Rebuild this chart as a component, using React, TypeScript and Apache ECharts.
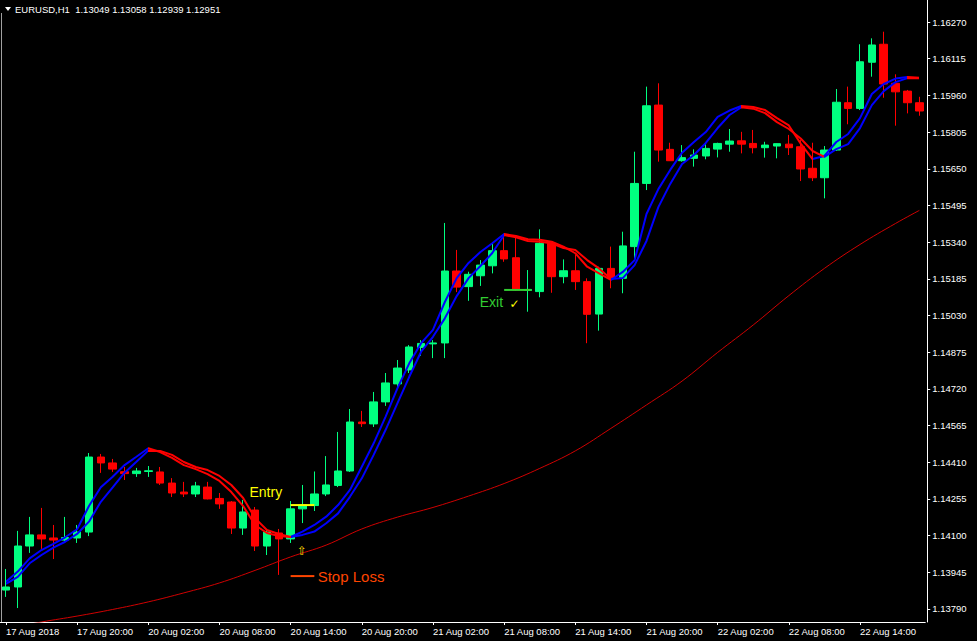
import React, { useEffect, useRef } from 'react';
import * as echarts from 'echarts';

// ---- time axis (H1 bars) ----
const sessions = [
  { day: '17 Aug', from: 14, to: 23 },
  { day: '20 Aug', from: 0, to: 23 },
  { day: '21 Aug', from: 0, to: 23 },
  { day: '22 Aug', from: 0, to: 19 },
];
const xTickLabels = [
  '17 Aug 2018', '17 Aug 20:00', '20 Aug 02:00', '20 Aug 08:00', '20 Aug 14:00',
  '20 Aug 20:00', '21 Aug 02:00', '21 Aug 08:00', '21 Aug 14:00', '21 Aug 20:00',
  '22 Aug 02:00', '22 Aug 08:00', '22 Aug 14:00',
];
const yTickLabels = [
  '1.16270', '1.16115', '1.15960', '1.15805', '1.15650', '1.15495', '1.15340', '1.15185',
  '1.15030', '1.14875', '1.14720', '1.14565', '1.14410', '1.14255', '1.14100', '1.13945', '1.13790',
];
const Y_MIN = 1.13735;
const Y_MAX = 1.16363;

// ---- candles: open, high, low, close ----
const ohlc: [number, number, number, number][] = [
  [1.13870, 1.13959, 1.13841, 1.13883],
  [1.13883, 1.14120, 1.13794, 1.14056],
  [1.14056, 1.14179, 1.14027, 1.14103],
  [1.14103, 1.14217, 1.14044, 1.14086],
  [1.14090, 1.14145, 1.14001, 1.14081],
  [1.14081, 1.14179, 1.14077, 1.14092],
  [1.14090, 1.14145, 1.14069, 1.14115],
  [1.14115, 1.14449, 1.14098, 1.14432],
  [1.14432, 1.14445, 1.14365, 1.14407],
  [1.14407, 1.14424, 1.14369, 1.14381],
  [1.14370, 1.14390, 1.14335, 1.14362],
  [1.14362, 1.14386, 1.14348, 1.14373],
  [1.14371, 1.14394, 1.14348, 1.14374],
  [1.14369, 1.14390, 1.14314, 1.14322],
  [1.14322, 1.14343, 1.14263, 1.14280],
  [1.14284, 1.14327, 1.14263, 1.14276],
  [1.14276, 1.14327, 1.14263, 1.14310],
  [1.14305, 1.14327, 1.14253, 1.14255],
  [1.14257, 1.14280, 1.14213, 1.14234],
  [1.14242, 1.14246, 1.14107, 1.14132],
  [1.14132, 1.14251, 1.14103, 1.14200],
  [1.14208, 1.14221, 1.14035, 1.14056],
  [1.14056, 1.14124, 1.14018, 1.14115],
  [1.14111, 1.14128, 1.13934, 1.14086],
  [1.14086, 1.14246, 1.14069, 1.14213],
  [1.14213, 1.14314, 1.14153, 1.14229],
  [1.14227, 1.14371, 1.14204, 1.14276],
  [1.14276, 1.14436, 1.14267, 1.14314],
  [1.14312, 1.14538, 1.14305, 1.14373],
  [1.14373, 1.14635, 1.14369, 1.14580],
  [1.14580, 1.14627, 1.14559, 1.14573],
  [1.14572, 1.14707, 1.14559, 1.14665],
  [1.14665, 1.14787, 1.14648, 1.14745],
  [1.14741, 1.14842, 1.14728, 1.14808],
  [1.14800, 1.14905, 1.14787, 1.14897],
  [1.14895, 1.14926, 1.14859, 1.14912],
  [1.14910, 1.14926, 1.14850, 1.14914],
  [1.14914, 1.15421, 1.14850, 1.15218],
  [1.15218, 1.15307, 1.15129, 1.15150],
  [1.15152, 1.15215, 1.15092, 1.15204],
  [1.15198, 1.15264, 1.15155, 1.15243],
  [1.15240, 1.15339, 1.15208, 1.15304],
  [1.15304, 1.15370, 1.15257, 1.15269],
  [1.15274, 1.15363, 1.15134, 1.15138],
  [1.15136, 1.15222, 1.15046, 1.15140],
  [1.15131, 1.15394, 1.15107, 1.15335],
  [1.15335, 1.15342, 1.15126, 1.15194],
  [1.15194, 1.15267, 1.15166, 1.15219],
  [1.15219, 1.15286, 1.15138, 1.15173],
  [1.15173, 1.15187, 1.14913, 1.15035],
  [1.15036, 1.15236, 1.14966, 1.15229],
  [1.15229, 1.15321, 1.15145, 1.15187],
  [1.15187, 1.15384, 1.15124, 1.15324],
  [1.15321, 1.15722, 1.15272, 1.15588],
  [1.15588, 1.15997, 1.15560, 1.15916],
  [1.15919, 1.16011, 1.15680, 1.15729],
  [1.15732, 1.15760, 1.15683, 1.15684],
  [1.15684, 1.15750, 1.15680, 1.15697],
  [1.15694, 1.15732, 1.15659, 1.15708],
  [1.15704, 1.15754, 1.15690, 1.15736],
  [1.15733, 1.15760, 1.15698, 1.15757],
  [1.15754, 1.15818, 1.15722, 1.15767],
  [1.15768, 1.15806, 1.15715, 1.15754],
  [1.15757, 1.15814, 1.15715, 1.15739],
  [1.15739, 1.15764, 1.15697, 1.15750],
  [1.15746, 1.15757, 1.15694, 1.15756],
  [1.15754, 1.15793, 1.15708, 1.15739],
  [1.15743, 1.15771, 1.15598, 1.15649],
  [1.15652, 1.15760, 1.15598, 1.15612],
  [1.15612, 1.15746, 1.15525, 1.15729],
  [1.15729, 1.15987, 1.15725, 1.15931],
  [1.15929, 1.15997, 1.15838, 1.15905],
  [1.15905, 1.16176, 1.15898, 1.16102],
  [1.16100, 1.16201, 1.16039, 1.16173],
  [1.16176, 1.16229, 1.15950, 1.16008],
  [1.16011, 1.16049, 1.15832, 1.15975],
  [1.15978, 1.15983, 1.15884, 1.15929],
  [1.15929, 1.15954, 1.15874, 1.15894],
];

// ---- moving averages ----
const fastMa = [
  1.13905, 1.13948, 1.14004, 1.14039, 1.14065, 1.14093, 1.14127, 1.14225, 1.14304, 1.14349,
  1.14398, 1.14433, 1.14469, 1.14453, 1.14428, 1.14398, 1.14381, 1.14360, 1.14331, 1.14284,
  1.14225, 1.14145, 1.14111, 1.14098, 1.14094, 1.14117, 1.14145, 1.14180, 1.14229, 1.14293,
  1.14391, 1.14490, 1.14602, 1.14722, 1.14828, 1.14913, 1.14969, 1.15087, 1.15188, 1.15252,
  1.15298, 1.15335, 1.15374, 1.15366, 1.15352, 1.15350, 1.15342, 1.15321, 1.15293, 1.15236,
  1.15208, 1.15180, 1.15214, 1.15264, 1.15459, 1.15564, 1.15645, 1.15718, 1.15763, 1.15805,
  1.15869, 1.15896, 1.15915, 1.15911, 1.15898, 1.15864, 1.15833, 1.15756, 1.15691, 1.15704,
  1.15763, 1.15797, 1.15864, 1.15966, 1.16008, 1.16031, 1.16038, 1.16035,
];
const slowMa = [
  1.13896, 1.13926, 1.13983, 1.14018, 1.14049, 1.14074, 1.14107, 1.14159, 1.14243, 1.14304,
  1.14366, 1.14412, 1.14459, 1.14458, 1.14441, 1.14411, 1.14390, 1.14377, 1.14352, 1.14314,
  1.14259, 1.14174, 1.14124, 1.14107, 1.14094, 1.14103, 1.14117, 1.14152, 1.14194, 1.14264,
  1.14342, 1.14441, 1.14546, 1.14659, 1.14771, 1.14877, 1.14940, 1.15018, 1.15112, 1.15188,
  1.15239, 1.15294, 1.15370, 1.15360, 1.15345, 1.15342, 1.15335, 1.15315, 1.15307, 1.15264,
  1.15229, 1.15184, 1.15188, 1.15243, 1.15345, 1.15488, 1.15586, 1.15670, 1.15708, 1.15759,
  1.15822, 1.15877, 1.15910, 1.15904, 1.15885, 1.15847, 1.15818, 1.15778, 1.15725, 1.15700,
  1.15733, 1.15754, 1.15822, 1.15919, 1.15978, 1.16016, 1.16033, 1.16032,
];
const longMaIdx = [0, 3, 6, 9, 12, 15, 18, 21, 24, 27, 30, 33, 36, 39, 42, 45, 48, 51, 54, 57, 60, 63, 66, 69, 72, 75, 77];
const longMaVals = [
  1.13706, 1.13735, 1.13760, 1.13788, 1.13820, 1.13858, 1.13900, 1.13953, 1.14010, 1.14060,
  1.14128, 1.14178, 1.14219, 1.14267, 1.14320, 1.14384, 1.14458, 1.14553, 1.14652, 1.14753,
  1.14874, 1.14990, 1.15114, 1.15229, 1.15330, 1.15419, 1.15474,
];

// ---- trade annotations ----
const tradeLines = [
  { from: 24, to: 26, price: 1.14229, color: '#FFFF00' },
  { from: 24, to: 26, price: 1.13929, color: '#FF4500' },
  { from: 42, to: 44.3, price: 1.15138, color: '#32CD32' },
];
const tradeTexts = [
  { text: 'Entry', idx: 20.53, price: 1.14284, color: '#FFFF00', size: 14, align: 'left' },
  { text: 'Stop Loss', idx: 26.28, price: 1.13929, color: '#FF4500', size: 15, align: 'left' },
  { text: 'Exit', idx: 39.94, price: 1.15089, color: '#32CD32', size: 14, align: 'left' },
  { text: '\u2713', idx: 42.88, price: 1.15079, color: '#FFFF00', size: 12, align: 'center' },
  { text: '\u21E7', idx: 24.96, price: 1.14037, color: '#FFD700', size: 12, align: 'center' },
];
const titleText = 'EURUSD,H1\u00A0 1.13049 1.13058 1.12939 1.12951';

const BLUE = '#0000FF';
const RED = '#FF0000';
const FONT = '"Liberation Sans", Arial, sans-serif';

function buildCategories(): string[] {
  const out: string[] = [];
  sessions.forEach((s) => {
    for (let h = s.from; h <= s.to; h++) out.push(`${s.day} ${String(h).padStart(2, '0')}:00`);
  });
  return out;
}

function slopePieces(vals: number[]) {
  const pieces: any[] = [];
  let start = 0;
  let cur = vals[1] > vals[0] ? BLUE : RED;
  for (let i = 1; i < vals.length - 1; i++) {
    const c = vals[i + 1] > vals[i] ? BLUE : RED;
    if (c !== cur) {
      pieces.push({ gte: start, lt: i, color: cur });
      start = i;
      cur = c;
    }
  }
  pieces.push({ gte: start, lte: vals.length - 1, color: cur });
  return pieces;
}

export default function App() {
  const ref = useRef<HTMLDivElement>(null);
  useEffect(() => {
    document.body.style.margin = '0';
    document.body.style.background = '#000';
    const chart = echarts.init(ref.current!, null, { renderer: 'svg' });
    const categories = buildCategories();
    const longMa: (number | null)[] = categories.map(() => null);
    longMaIdx.forEach((i, k) => { longMa[i] = longMaVals[k]; });
    const showTick = (i: number) => i % 6 === 0;

    chart.setOption({
      animation: false,
      backgroundColor: '#000000',
      grid: { left: -2.95, top: 0, width: 928.2, height: 622 },
      xAxis: {
        type: 'category',
        data: categories,
        boundaryGap: true,
        axisLine: { show: true, lineStyle: { color: '#FFFFFF', width: 1 } },
        axisTick: { show: true, alignWithLabel: true, interval: showTick, length: 3, lineStyle: { color: '#FFFFFF' } },
        axisLabel: {
          interval: showTick,
          formatter: (_v: string, i: number) => xTickLabels[Math.round(i / 6)] ?? '',
          align: 'left',
          color: '#FFFFFF',
          fontFamily: FONT,
          fontSize: 9.5,
          margin: 4,
        },
        splitLine: { show: false },
      },
      yAxis: {
        type: 'value',
        position: 'right',
        min: Y_MIN,
        max: Y_MAX,
        offset: 2,
        axisLine: { show: true, lineStyle: { color: '#FFFFFF', width: 1 } },
        axisTick: { show: true, length: 3, customValues: yTickLabels.map(Number), lineStyle: { color: '#FFFFFF' } },
        axisLabel: {
          customValues: yTickLabels.map(Number),
          formatter: (v: number) => v.toFixed(5),
          color: '#FFFFFF',
          fontFamily: FONT,
          fontSize: 9.5,
          margin: 5,
        },
        splitLine: { show: false },
      },
      visualMap: [
        { show: false, type: 'piecewise', dimension: 0, seriesIndex: 2, pieces: slopePieces(fastMa) },
        { show: false, type: 'piecewise', dimension: 0, seriesIndex: 3, pieces: slopePieces(slowMa) },
      ],
      series: [
        {
          type: 'candlestick',
          data: ohlc.map(([o, h, l, c]) => [o, c, l, h]),
          barWidth: 8,
          itemStyle: {
            color: '#00FF80', color0: '#FF0000',
            borderColor: '#00FF80', borderColor0: '#FF0000', borderWidth: 1,
          },
        },
        {
          type: 'line',
          data: longMa,
          connectNulls: true,
          smooth: 0.4,
          symbol: 'none',
          lineStyle: { color: '#D00000', width: 1 },
        },
        { type: 'line', data: fastMa, symbol: 'none', lineStyle: { width: 2 } },
        { type: 'line', data: slowMa, symbol: 'none', lineStyle: { width: 2 } },
      ],
    });

    const p0 = (price: number) => chart.convertToPixel({ xAxisIndex: 0, yAxisIndex: 0 }, [0, price]) as number[];
    const p1 = (price: number) => chart.convertToPixel({ xAxisIndex: 0, yAxisIndex: 0 }, [1, price]) as number[];
    const px = (i: number, price: number) => {
      const a = p0(price);
      const b = p1(price);
      return [a[0] + (b[0] - a[0]) * i, a[1]];
    };

    const graphics: any[] = [
      { type: 'line', shape: { x1: 1.5, y1: 13, x2: 1.5, y2: 622 }, style: { stroke: '#A0A0A0', lineWidth: 1 }, silent: true },
      { type: 'polygon', shape: { points: [[5, 7], [11, 7], [8, 11]] }, style: { fill: '#FFFFFF' }, silent: true },
      {
        type: 'text', x: 15, y: 9.5,
        style: { text: titleText, fill: '#FFFFFF', font: `9.5px ${FONT}`, align: 'left', verticalAlign: 'middle' },
        silent: true,
      },
    ];
    tradeLines.forEach((l) => {
      const a = px(l.from, l.price);
      const b = px(l.to, l.price);
      graphics.push({
        type: 'line', z: 100,
        shape: { x1: a[0], y1: a[1], x2: b[0], y2: b[1] },
        style: { stroke: l.color, lineWidth: 2 }, silent: true,
      });
    });
    tradeTexts.forEach((t) => {
      const a = px(t.idx, t.price);
      graphics.push({
        type: 'text', z: 100, x: a[0], y: a[1],
        style: { text: t.text, fill: t.color, font: `${t.size}px ${t.text.length > 1 ? FONT : '"DejaVu Sans", sans-serif'}`, align: t.align, verticalAlign: 'middle' },
        silent: true,
      });
    });
    chart.setOption({ graphic: graphics });

    return () => chart.dispose();
  }, []);
  return <div ref={ref} style={{ width: 977, height: 641, background: '#000' }} />;
}
